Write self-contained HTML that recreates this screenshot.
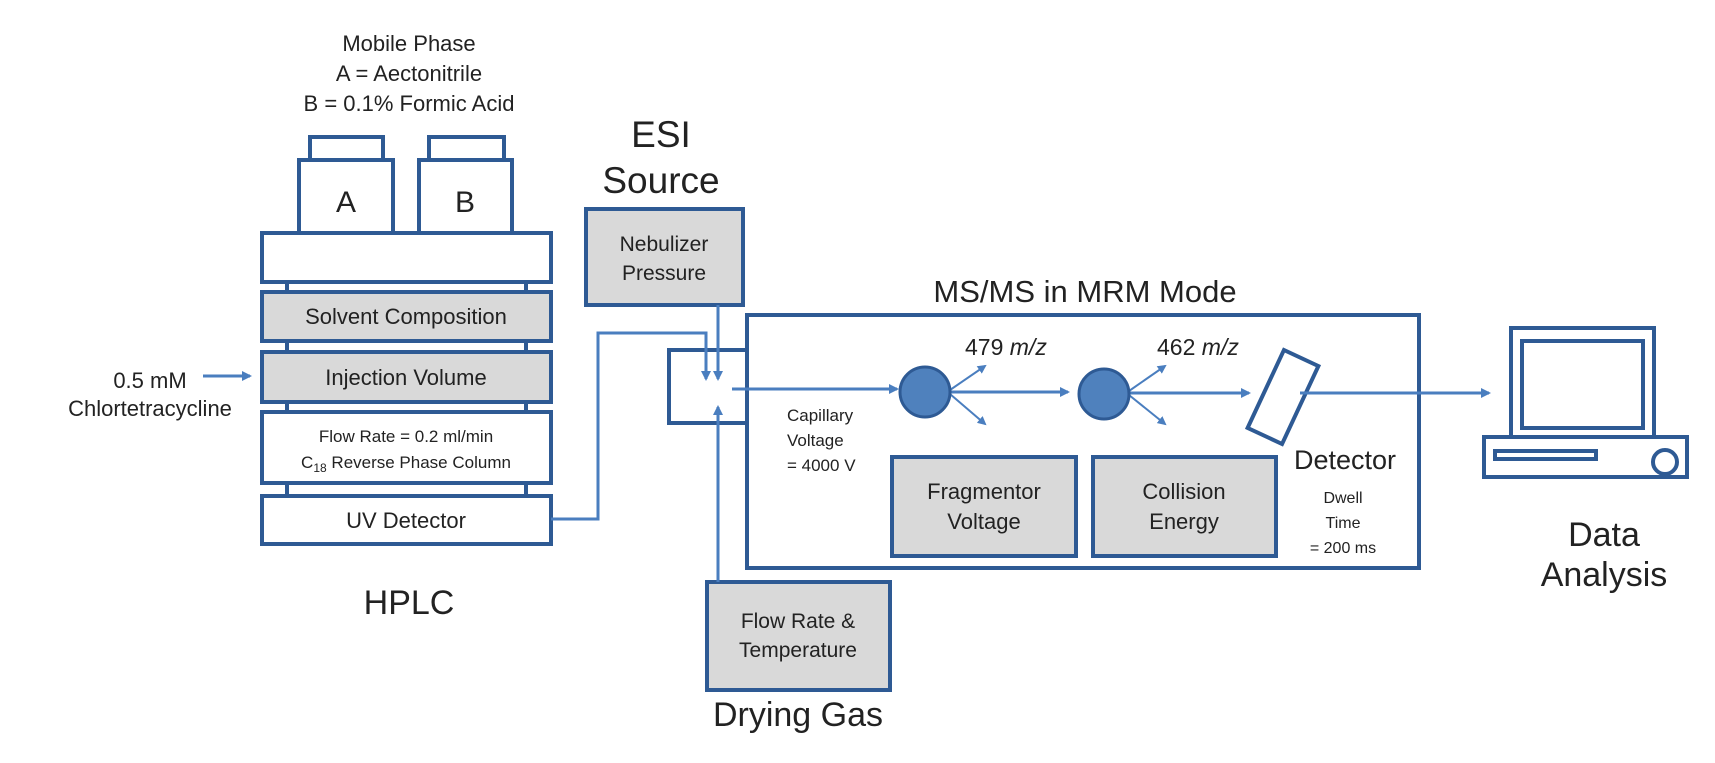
<!DOCTYPE html>
<html><head><meta charset="utf-8"><style>
html,body{margin:0;padding:0;background:#fff;}
svg{display:block;font-family:"Liberation Sans","DejaVu Sans",sans-serif;}
</style></head><body>
<svg width="1715" height="763" viewBox="0 0 1715 763" xmlns="http://www.w3.org/2000/svg">
<defs>
<marker id="ah" markerWidth="10" markerHeight="10" refX="8" refY="5" orient="auto" markerUnits="userSpaceOnUse">
<path d="M0,0 L10,5 L0,10 Z" fill="#4a7ebf"/>
</marker>
<marker id="as" markerWidth="9" markerHeight="9" refX="7" refY="4.5" orient="auto" markerUnits="userSpaceOnUse">
<path d="M0,0 L9,4.5 L0,9 Z" fill="#4a7ebf"/>
</marker>
</defs>
<g fill="#222" text-anchor="middle">
<text x="409" y="51" font-size="22">Mobile Phase</text>
<text x="409" y="81" font-size="22">A = Aectonitrile</text>
<text x="409" y="111" font-size="22">B = 0.1% Formic Acid</text>
<text x="150" y="388" font-size="22">0.5 mM</text>
<text x="150" y="416" font-size="22">Chlortetracycline</text>
<text x="409" y="614" font-size="34">HPLC</text>
<text x="661" y="147" font-size="37">ESI</text>
<text x="661" y="193" font-size="37">Source</text>
<text x="1085" y="302" font-size="31">MS/MS in MRM Mode</text>
<text x="798" y="726" font-size="34">Drying Gas</text>
<text x="1604" y="546" font-size="34">Data</text>
<text x="1604" y="586" font-size="34">Analysis</text>
</g>
<g stroke="#2e5a94" stroke-width="4" fill="#fff">
<rect x="310" y="137" width="73" height="24"/>
<rect x="299" y="160" width="94" height="73"/>
<rect x="429" y="137" width="75" height="24"/>
<rect x="419" y="160" width="93" height="73"/>
<line x1="287" y1="282" x2="287" y2="496"/>
<line x1="526" y1="282" x2="526" y2="496"/>
<rect x="262" y="233" width="289" height="49"/>
<rect x="262" y="292" width="289" height="49" fill="#d9d9d9"/>
<rect x="262" y="352" width="289" height="50" fill="#d9d9d9"/>
<rect x="262" y="412" width="289" height="71"/>
<rect x="262" y="496" width="289" height="48"/>
<rect x="586" y="209" width="157" height="96" fill="#d9d9d9"/>
<rect x="707" y="582" width="183" height="108" fill="#d9d9d9"/>
<polyline points="748,350 669,350 669,423 748,423" fill="none"/>
<rect x="747" y="315" width="672" height="253"/>
<rect x="892" y="457" width="184" height="99" fill="#d9d9d9"/>
<rect x="1093" y="457" width="183" height="99" fill="#d9d9d9"/>
<rect x="-19" y="-43" width="38" height="86" transform="translate(1283,397) rotate(25)"/>
<rect x="1511" y="328" width="143" height="109"/>
<rect x="1522" y="341" width="121" height="87"/>
<rect x="1484" y="437" width="203" height="40"/>
<rect x="1495" y="451" width="101" height="8"/>
<circle cx="1665" cy="462" r="12"/>
</g>
<g fill="#222" text-anchor="middle">
<text x="406" y="324" font-size="22">Solvent Composition</text>
<text x="406" y="385" font-size="22">Injection Volume</text>
<text x="406" y="442" font-size="17">Flow Rate = 0.2 ml/min</text>
<text x="406" y="468" font-size="17">C<tspan font-size="12" dy="4">18</tspan><tspan dy="-4"> Reverse Phase Column</tspan></text>
<text x="406" y="528" font-size="22">UV Detector</text>
<text x="346" y="212" font-size="30">A</text>
<text x="465" y="212" font-size="30">B</text>
<text x="664" y="251" font-size="21">Nebulizer</text>
<text x="664" y="280" font-size="21">Pressure</text>
<text x="798" y="628" font-size="21">Flow Rate &amp;</text>
<text x="798" y="657" font-size="21">Temperature</text>
<text x="984" y="499" font-size="22">Fragmentor</text>
<text x="984" y="529" font-size="22">Voltage</text>
<text x="1184" y="499" font-size="22">Collision</text>
<text x="1184" y="529" font-size="22">Energy</text>
<text x="1345" y="469" font-size="27">Detector</text>
<text x="1343" y="503" font-size="16">Dwell</text>
<text x="1343" y="528" font-size="16">Time</text>
<text x="1343" y="553" font-size="16">= 200 ms</text>
</g>
<g fill="#222" font-size="17">
<text x="787" y="421">Capillary</text>
<text x="787" y="446">Voltage</text>
<text x="787" y="471">= 4000 V</text>
<text x="965" y="355" font-size="23">479 <tspan font-style="italic">m/z</tspan></text>
<text x="1157" y="355" font-size="23">462 <tspan font-style="italic">m/z</tspan></text>
</g>
<g stroke="#4a7ebf" stroke-width="3" fill="none">
<line x1="203" y1="376" x2="250" y2="376" marker-end="url(#ah)"/>
<polyline points="551,519 598,519 598,333 706,333 706,379" marker-end="url(#ah)"/>
<line x1="718" y1="305" x2="718" y2="379" marker-end="url(#ah)"/>
<line x1="718" y1="582" x2="718" y2="407" marker-end="url(#ah)"/>
<line x1="732" y1="389" x2="897" y2="389" marker-end="url(#ah)"/>
<line x1="950" y1="392" x2="1068" y2="392" marker-end="url(#ah)"/>
<line x1="1129" y1="393" x2="1249" y2="393" marker-end="url(#ah)"/>
<line x1="1300" y1="393" x2="1489" y2="393" marker-end="url(#ah)"/>
<g stroke-width="2">
<line x1="950" y1="390" x2="985" y2="366" marker-end="url(#as)"/>
<line x1="950" y1="394" x2="985" y2="424" marker-end="url(#as)"/>
<line x1="1129" y1="391" x2="1165" y2="366" marker-end="url(#as)"/>
<line x1="1129" y1="395" x2="1165" y2="424" marker-end="url(#as)"/>
</g>
</g>
<circle cx="925" cy="392" r="25" fill="#4f81bd" stroke="#2e5a94" stroke-width="3"/>
<circle cx="1104" cy="394" r="25" fill="#4f81bd" stroke="#2e5a94" stroke-width="3"/>
</svg>
</body></html>
